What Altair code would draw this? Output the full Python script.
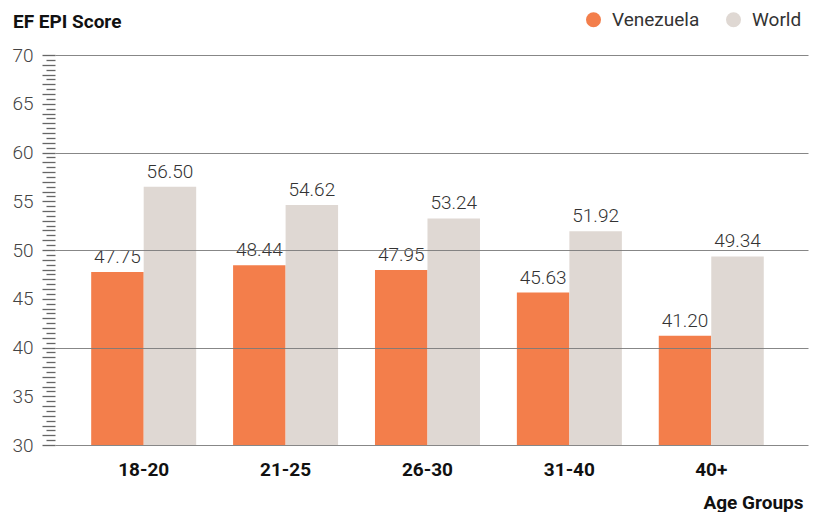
import altair as alt
import pandas as pd

ages = ["18-20", "21-25", "26-30", "31-40", "40+"]
venezuela = [47.75, 48.44, 47.95, 45.63, 41.20]
world = [56.50, 54.62, 53.24, 51.92, 49.34]
series = ["Venezuela", "World"]
colors = ["#F37E4B", "#DFD8D3"]

rows = []
for a, v, w in zip(ages, venezuela, world):
    rows.append({"age": a, "series": "Venezuela", "value": v})
    rows.append({"age": a, "series": "World", "value": w})
df = pd.DataFrame(rows)

FONT = "Roboto"
grid_vals = [30, 40, 50, 60, 70]
major_vals = list(range(30, 71))
minor_vals = [30.5 + i for i in range(40)]

yscale = alt.Scale(domain=[30, 70], nice=False, zero=False)

x_enc = alt.X("age:N", sort=ages,
              scale=alt.Scale(paddingInner=0.26, paddingOuter=0.2834, align=0.45),
              axis=alt.Axis(title="Age Groups", domain=False, ticks=False, labelAngle=0,
                            labelFont=FONT, labelFontSize=19, labelFontWeight="bold",
                            labelColor="#111", labelPadding=15,
                            titleFont=FONT, titleFontSize=19, titleFontWeight="bold",
                            titleColor="#111", titleAlign="right", titleAnchor="end",
                            titleX=748, titleY=63, titleBaseline="alphabetic"))
xoff = alt.XOffset("series:N", sort=series)

# axis carrying the grid lines (drawn above the bars)
y_grid = alt.Y("value:Q", scale=yscale,
               axis=alt.Axis(title=None, orient="left", values=grid_vals, domain=False,
                             ticks=False, labels=False, zindex=1,
                             grid=True, gridColor="#7a7a7a", gridWidth=1, gridOpacity=0.9))
# axis with labels and long ticks
y_major = alt.Y("value:Q", scale=yscale,
                axis=alt.Axis(title=None, orient="left", values=major_vals, domain=False,
                              grid=False, zindex=1,
                              labelExpr="datum.value % 5 === 0 ? datum.label : ''",
                              labelOverlap=False,
                              labelFont=FONT, labelFontSize=19, labelFontWeight=300,
                              labelColor="#444",
                              labelPadding=9, tickColor="#666", tickWidth=1.3, tickSize=13))
# axis with short half-step ticks
y_minor = alt.Y("value:Q", scale=yscale,
                axis=alt.Axis(title=None, orient="left", values=minor_vals, domain=False,
                              grid=False, labels=False, zindex=1,
                              tickColor="#666", tickWidth=1.3, tickSize=9))

bars = alt.Chart(df).mark_bar(clip=True).encode(
    x=x_enc, y=y_grid, xOffset=xoff,
    color=alt.Color("series:N", scale=alt.Scale(domain=series, range=colors),
                    legend=alt.Legend(title=None, orient="none", legendX=529, legendY=-45,
                                      direction="horizontal", symbolType="circle",
                                      symbolSize=225, symbolOpacity=1, symbolStrokeWidth=0,
                                      labelFont=FONT, labelFontSize=19, labelColor="#333",
                                      labelOffset=9, columnPadding=24)),
)

labels = alt.Chart(df).mark_text(baseline="bottom", dy=-5, font=FONT, fontSize=19,
                                 fontWeight=300, color="#333").encode(
    x=alt.X("age:N", sort=ages), y=y_major, xOffset=xoff,
    text=alt.Text("value:Q", format=".2f"),
)

minor = alt.Chart(df).mark_point(opacity=0).encode(
    x=alt.X("age:N", sort=ages), y=y_minor,
)

title = alt.Chart(pd.DataFrame({"t": ["EF EPI Score"]})).mark_text(
    align="left", baseline="alphabetic", font=FONT, fontSize=19, fontWeight="bold", color="#111"
).encode(x=alt.value(-42), y=alt.value(-27), text="t:N")

chart = alt.layer(bars, labels, minor, title).resolve_axis(y="independent").properties(
    width=753, height=390,
    autosize=alt.AutoSizeParams(type="none"),
    padding={"left": 47, "top": 47, "right": 5, "bottom": 67},
).configure_view(stroke=None)

chart.save("out.html", embed_options={"renderer": "svg", "actions": False})
